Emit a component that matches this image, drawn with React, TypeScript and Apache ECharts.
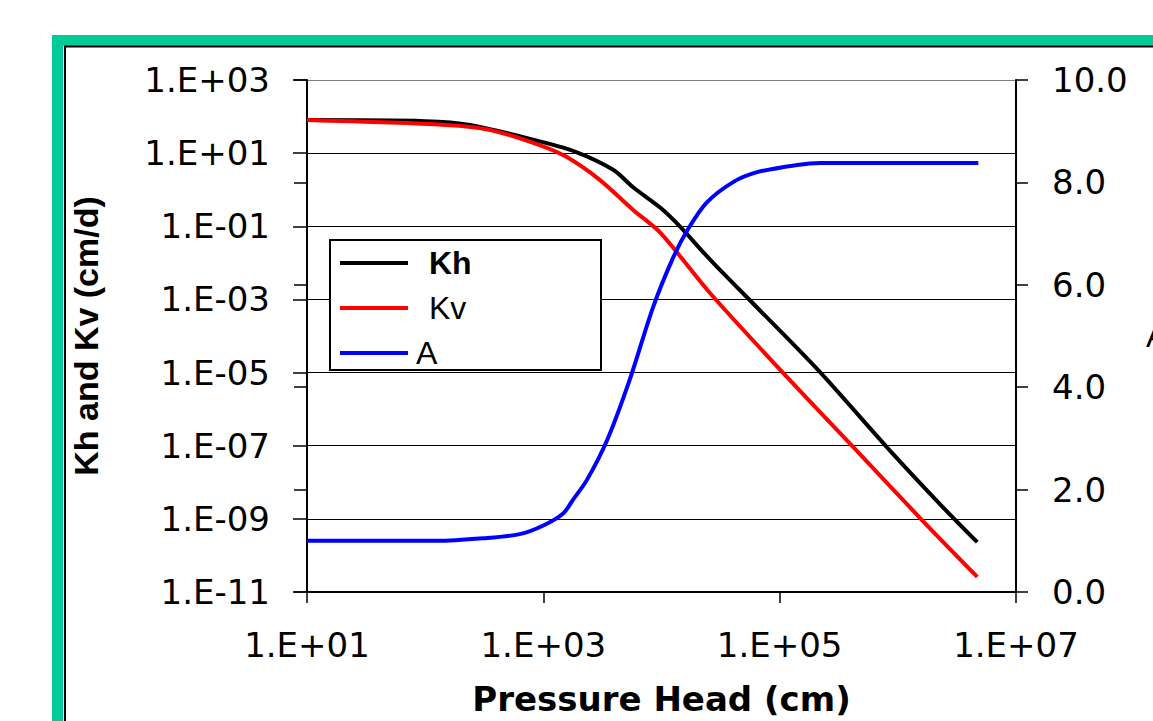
import { useEffect, useRef } from "react";
import * as echarts from "echarts";

// Pressure head (cm) and conductivities (cm/d)
const PRESSURE_KH = [10, 100, 240, 930, 1900, 3900, 5750, 9800, 14500, 22400, 29500, 56000, 210000, 850000, 2400000, 4700000];
const KH = [80, 75, 59, 21, 10.7, 3.5, 1.17, 0.32, 0.095, 0.02, 0.0078, 9.5e-4, 1.2e-5, 7.6e-8, 2.1e-9, 2.3e-10];

const PRESSURE_KV = [10, 150, 355, 930, 1580, 3000, 5750, 9800, 25700, 115000, 420000, 1600000, 4700000];
const KV = [80, 59, 43, 16.6, 7.8, 1.86, 0.28, 0.066, 1.5e-3, 7.6e-6, 9.1e-8, 9.3e-10, 2.6e-11];

const PRESSURE_A = [10, 125, 310, 630, 1000, 1480, 1780, 2340, 3470, 5370, 8510, 12600, 16600, 24000, 40700, 64600, 140000, 220000, 4800000];
const A = [1.0, 1.0, 1.05, 1.13, 1.3, 1.54, 1.8, 2.19, 2.97, 4.14, 5.57, 6.54, 7.07, 7.6, 8.01, 8.2, 8.34, 8.38, 8.38];

// Axis ranges (decade exponents) and tick steps
const X_MIN_EXP = 1;
const X_MAX_EXP = 7;
const K_MIN_EXP = -11;
const K_MAX_EXP = 3;
const A_MIN = 0;
const A_MAX = 10;
const STEP = 2;

const SERIES_NAMES = ["Kh", "Kv", "A"];
const X_NAME = "Pressure Head (cm)";
const Y_NAME = "Kh and Kv (cm/d)";
const Y2_NAME = "A";

const lg = Math.log10;

function expLabel(e: number): string {
  const s = e >= 0 ? "+" : "-";
  const a = Math.abs(Math.round(e));
  return "1.E" + s + (a < 10 ? "0" : "") + a;
}

const TICK_FONT = "DejaVu Sans";
const ARIAL = "Liberation Sans";

export default function App() {
  const ref = useRef<HTMLDivElement>(null);

  useEffect(() => {
    if (!ref.current) return;
    const chart = echarts.init(ref.current, undefined, { renderer: "svg" });

    const kSpan = K_MAX_EXP - K_MIN_EXP;
    const gridColors: string[] = [];
    for (let i = 0; i <= kSpan / STEP; i++) gridColors.push(i === kSpan / STEP ? "#808080" : "#000000");

    const khData = PRESSURE_KH.map((p, i) => [lg(p) - X_MIN_EXP, lg(KH[i]) - K_MIN_EXP]);
    const kvData = PRESSURE_KV.map((p, i) => [lg(p) - X_MIN_EXP, lg(KV[i]) - K_MIN_EXP]);
    const aData = PRESSURE_A.map((p, i) => [lg(p) - X_MIN_EXP, A[i]]);

    const option: any = {
      animation: false,
      backgroundColor: "#ffffff",
      grid: {
        left: 307,
        right: 137,
        top: 80,
        bottom: 129,
        containLabel: false,
        outerBoundsMode: "none",
      },
      graphic: [
        {
          type: "rect",
          z: -10,
          shape: { x: 57.5, y: 40.5, width: 1200, height: 800 },
          style: { fill: "none", stroke: "#00CC99", lineWidth: 11 },
        },
        {
          type: "rect",
          z: -9,
          shape: { x: 65, y: 46.5, width: 1200, height: 800 },
          style: { fill: "none", stroke: "#000000", lineWidth: 2 },
        },
        {
          type: "rect",
          z: 3,
          shape: { x: 330, y: 240, width: 271, height: 130 },
          style: { fill: "#ffffff", stroke: "#000000", lineWidth: 2 },
        },
      ],
      legend: {
        orient: "vertical",
        left: 340,
        top: 247,
        padding: 0,
        icon: "rect",
        itemWidth: 68,
        itemHeight: 4,
        itemGap: 13,
        selectedMode: false,
        z: 4,
        textStyle: { fontFamily: ARIAL, fontSize: 32, color: "#000", padding: [0, 0, 0, 16] },
        data: [
          { name: SERIES_NAMES[0], textStyle: { fontWeight: "bold" } },
          { name: SERIES_NAMES[1] },
          { name: SERIES_NAMES[2], textStyle: { padding: [0, 0, 0, 3] } },
        ],
      },
      xAxis: {
        type: "value",
        min: 0,
        max: X_MAX_EXP - X_MIN_EXP,
        interval: STEP,
        name: X_NAME,
        nameLocation: "middle",
        nameGap: 90,
        nameTextStyle: { fontFamily: TICK_FONT, fontSize: 34, fontWeight: "bold", color: "#000" },
        axisLine: { show: true, onZero: false, lineStyle: { color: "#000", width: 2 } },
        axisTick: { show: true, inside: false, length: 11, lineStyle: { color: "#000", width: 1.5 } },
        axisLabel: {
          margin: 36,
          fontFamily: TICK_FONT,
          fontSize: 34,
          color: "#000",
          formatter: (v: number) => expLabel(v + X_MIN_EXP),
        },
        splitLine: { show: false },
      },
      yAxis: [
        {
          type: "value",
          min: 0,
          max: kSpan,
          interval: STEP,
          position: "left",
          name: Y_NAME,
          nameLocation: "middle",
          nameGap: 204,
          nameTextStyle: { fontFamily: ARIAL, fontSize: 34, fontWeight: "bold", color: "#000" },
          axisLine: { show: true, onZero: false, lineStyle: { color: "#000", width: 2 } },
          axisTick: { show: true, inside: false, length: 14, lineStyle: { color: "#000", width: 1.5 } },
          axisLabel: {
            margin: 37,
            fontFamily: TICK_FONT,
            fontSize: 34,
            color: "#000",
            formatter: (v: number) => expLabel(v + K_MIN_EXP),
          },
          splitLine: { show: true, lineStyle: { color: gridColors, width: 1.2 } },
        },
        {
          type: "value",
          min: A_MIN,
          max: A_MAX,
          interval: STEP,
          position: "right",
          name: Y2_NAME,
          nameLocation: "middle",
          nameRotate: 0,
          nameGap: 130,
          nameTextStyle: { fontFamily: ARIAL, fontSize: 32, color: "#000", align: "left" },
          axisLine: { show: true, onZero: false, lineStyle: { color: "#000", width: 2 } },
          axisTick: { show: true, inside: false, length: 12, lineStyle: { color: "#000", width: 1.5 } },
          axisLabel: {
            margin: 36,
            fontFamily: TICK_FONT,
            fontSize: 34,
            color: "#000",
            formatter: (v: number) => v.toFixed(1),
          },
          splitLine: { show: false },
        },
        {
          type: "value",
          min: A_MIN,
          max: A_MAX,
          interval: STEP,
          position: "right",
          axisLine: { show: false },
          axisTick: { show: true, inside: true, length: 13, lineStyle: { color: "#000", width: 1.5 } },
          axisLabel: { show: false },
          splitLine: { show: false },
        },
      ],
      series: [
        {
          name: SERIES_NAMES[0],
          type: "line",
          yAxisIndex: 0,
          data: khData,
          symbol: "none",
          smooth: 0.3,
          lineStyle: { color: "#000000", width: 4 },
          itemStyle: { color: "#000000" },
          z: 2,
        },
        {
          name: SERIES_NAMES[1],
          type: "line",
          yAxisIndex: 0,
          data: kvData,
          symbol: "none",
          smooth: 0.3,
          lineStyle: { color: "#ff0000", width: 4 },
          itemStyle: { color: "#ff0000" },
          z: 2,
        },
        {
          name: SERIES_NAMES[2],
          type: "line",
          yAxisIndex: 1,
          data: aData,
          symbol: "none",
          smooth: 0.3,
          lineStyle: { color: "#0000ff", width: 4 },
          itemStyle: { color: "#0000ff" },
          z: 2,
        },
      ],
    };

    chart.setOption(option);
    return () => chart.dispose();
  }, []);

  return (
    <div
      ref={ref}
      style={{ position: "absolute", left: 0, top: 0, width: 1153, height: 721, background: "#fff" }}
    />
  );
}
